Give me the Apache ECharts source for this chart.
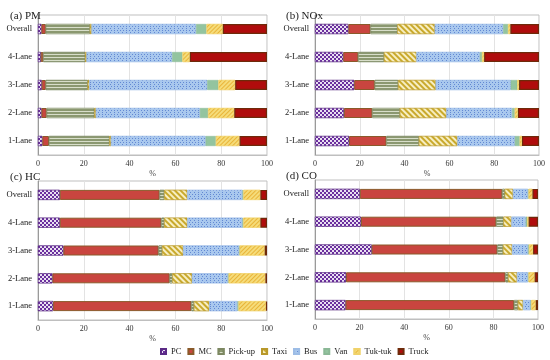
<!DOCTYPE html>
<html><head><meta charset="utf-8">
<script src="https://cdn.jsdelivr.net/npm/echarts@6/dist/echarts.min.js"></script>
<style>html,body{margin:0;padding:0;background:#fff}#c{width:550px;height:360px}</style>
</head><body><div id="c"></div>
<script>
const categories = ['Overall','4-Lane','3-Lane','2-Lane','1-Lane'];
const vehicles = ['PC','MC','Pick-up','Taxi','Bus','Van','Tuk-tuk','Truck'];
const xTicks = [0,20,40,60,80,100];
const titles = ['(a) PM','(b) NOx','(c) HC','(d) CO'];
// rows: vehicles; columns: categories
const pmValues = [
  [1.5,1.2,1.6,1.5,1.9],
  [1.9,1.1,1.8,2.3,2.9],
  [19.3,18.3,18.3,20.8,26.4],
  [0.7,0.6,0.7,0.7,0.7],
  [45.6,37.4,51.5,45.4,41.3],
  [4.6,4.5,4.9,3.6,4.5],
  [7.1,3.2,7.3,11.4,10.3],
  [19.3,33.7,13.9,14.3,12.0]
];
const noxValues = [
  [14.9,12.6,17.5,12.9,15.2],
  [9.9,6.7,9.2,12.7,16.7],
  [12.0,11.5,10.4,12.3,14.5],
  [16.7,14.5,16.8,20.8,17.2],
  [30.5,28.3,33.5,29.3,25.6],
  [2.2,1.0,2.9,1.2,2.2],
  [1.0,0.9,0.8,1.4,1.0],
  [12.8,24.5,8.9,9.4,7.6]
];
const hcValues = [
  [9.5,9.5,11.1,6.3,6.6],
  [43.6,44.4,41.6,51.2,60.4],
  [2.0,1.2,1.5,1.2,1.1],
  [10.1,10.1,9.2,8.6,6.7],
  [24.1,24.1,24.4,15.6,12.3],
  [0.4,0.4,0.3,0.4,0.5],
  [7.4,7.4,10.9,16.0,12.0],
  [2.9,2.9,1.0,0.7,0.4]
];
const coValues = [
  [20.1,20.6,25.4,13.9,13.7],
  [63.9,60.7,56.4,71.5,75.6],
  [1.1,3.2,2.5,1.2,1.7],
  [3.7,3.6,4.1,4.0,2.3],
  [6.7,6.4,7.1,4.9,3.4],
  [0.3,0.7,0.5,0.3,0.3],
  [1.7,0.6,1.8,2.7,2.0],
  [2.5,4.2,2.2,1.5,1.0]
];
const panels = [pmValues, noxValues, hcValues, coValues];

const styles = [
  {color:'#6b2f9e', borderColor:'#5a2a85', borderWidth:0.5,
   decal:{symbol:'rect', symbolSize:1, color:'rgba(255,255,255,0.85)', dashArrayX:[[1.5,1.5],[0,1.5,1.5,0]], dashArrayY:[1.5,0]}},
  {color:'#c9453f', borderColor:'#8a5a2a', borderWidth:1},
  {color:'#8b9870', borderColor:'#7d8862', borderWidth:0.5,
   decal:{symbol:'rect', symbolSize:1, color:'rgba(235,240,225,0.8)', dashArrayX:[1,0], dashArrayY:[1,2]}},
  {color:'#c9a92c', borderColor:'#b8982a', borderWidth:0.5,
   decal:{symbol:'rect', symbolSize:1, color:'rgba(255,250,220,0.85)', dashArrayX:[1,0], dashArrayY:[1.5,2], rotation:Math.PI/4}},
  {color:'#a9c8ee', borderColor:'#9dbde6', borderWidth:0.5,
   decal:{symbol:'rect', symbolSize:1, color:'rgba(70,110,200,0.7)', dashArrayX:[[1,1.5],[0,1.2,1,0.3]], dashArrayY:[1,1]}},
  {color:'#93c49f', borderColor:'#8bb896', borderWidth:0.5},
  {color:'#f5dc7a', borderColor:'#f0d26a', borderWidth:0.5,
   decal:{symbol:'rect', symbolSize:1, color:'rgba(230,170,40,0.8)', dashArrayX:[1,0], dashArrayY:[1,2], rotation:-Math.PI/4}},
  {color:'#b00c0c', borderColor:'#6e2a0a', borderWidth:1.2}
];

const grids = [
  {left:38, top:15, width:229, height:140},
  {left:315, top:15, width:224, height:140},
  {left:38, top:181, width:229, height:139},
  {left:315, top:180, width:223, height:139}
];
const titlePos = [[5,6],[281,6],[5,167],[281,166]];
const font = 'Liberation Serif';

const option = {
  animation:false,
  backgroundColor:'#fff',
  title: titles.map((t,i)=>({text:t, left:titlePos[i][0], top:titlePos[i][1],
    textStyle:{fontFamily:font, fontSize:11, fontWeight:'normal', color:'#222'}})),
  grid: grids.map(g=>Object.assign({show:true, borderColor:'#bfbfbf', borderWidth:1, containLabel:false}, g)),
  xAxis: grids.map((g,i)=>({gridIndex:i, type:'value', min:0, max:100, interval:20,
    name:'%', nameLocation:'middle', nameGap:15,
    nameTextStyle:{fontFamily:font, fontSize:8, color:'#444'},
    axisLine:{show:true, lineStyle:{color:'#bfbfbf'}}, axisTick:{show:false},
    axisLabel:{fontFamily:font, fontSize:8, color:'#333', margin:5,
      formatter:v=>xTicks.includes(v)?String(v):''},
    splitLine:{show:true, lineStyle:{color:'#e3e3e3', width:1}}})),
  yAxis: grids.map((g,i)=>({gridIndex:i, type:'category', data:categories, inverse:true,
    axisLine:{show:true, lineStyle:{color:'#9a9a9a'}}, axisTick:{show:false},
    axisLabel:{fontFamily:font, fontSize:8.5, color:'#222', margin:6}})),
  legend:{data:vehicles, left:155, top:342, itemWidth:5, itemHeight:5, itemGap:6,
    textStyle:{fontFamily:font, fontSize:8.5, color:'#222'}, icon:'rect'},
  series:[]
};
panels.forEach((vals,p)=>{
  vehicles.forEach((v,k)=>{
    option.series.push({name:v, type:'bar', stack:'s'+p, xAxisIndex:p, yAxisIndex:p,
      barWidth:10, data:vals[k], itemStyle:styles[k], emphasis:{disabled:true}});
  });
});
const chart = echarts.init(document.getElementById('c'), null, {renderer:'canvas'});
chart.setOption(option);
</script></body></html>
